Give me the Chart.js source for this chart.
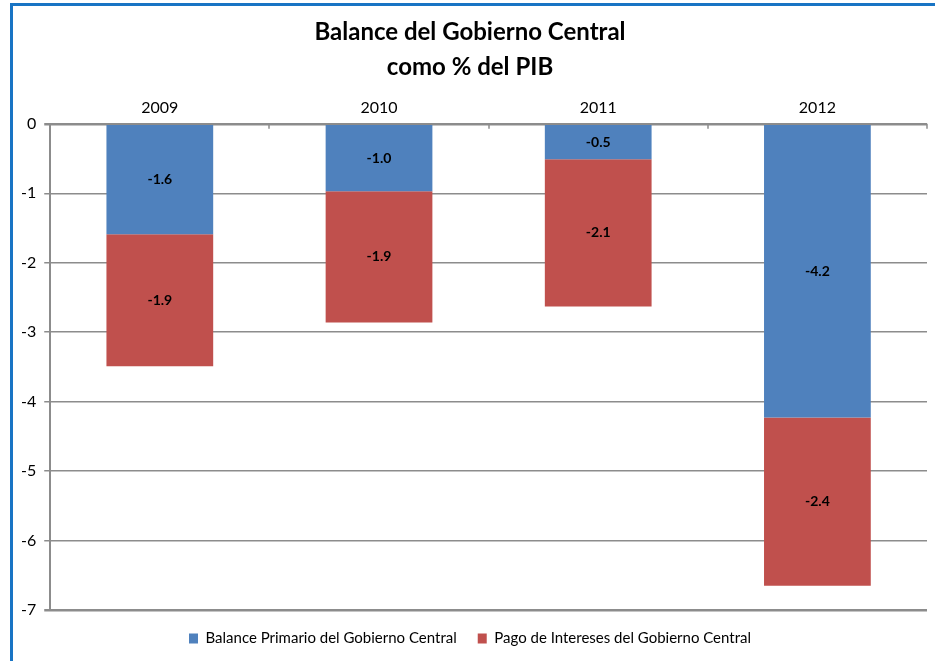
<!DOCTYPE html>
<html>
<head>
<meta charset="utf-8">
<script src="https://cdn.jsdelivr.net/npm/chart.js@4.4.1/dist/chart.umd.min.js"></script>
<style>
  html, body { margin: 0; padding: 0; background: #fff; overflow: hidden; }
  #frame {
    position: absolute; left: 10px; top: 3px;
    width: 929px; height: 658px;
    border-left: 3px solid #1874c4; border-top: 3px solid #1874c4;
  }
  #chart { display: block; }
</style>
</head>
<body>
<div id="frame"><canvas id="chart" width="929" height="655"></canvas></div>
<script>
'use strict';

const years = ['2009', '2010', '2011', '2012'];
const primario = [-1.59, -0.97, -0.51, -4.23];
const intereses = [-1.90, -1.89, -2.12, -2.42];
const seriesNames = ['Balance Primario del Gobierno Central', 'Pago de Intereses del Gobierno Central'];
const titleLines = ['Balance del Gobierno Central', 'como % del PIB'];

const FONT = 'Lato, "Noto Sans", sans-serif';
const GRID = '#8c8c8c';

// value labels in the middle of each bar piece
const barLabels = {
  id: 'barLabels',
  afterDatasetsDraw(chart) {
    const ctx = chart.ctx;
    ctx.save();
    ctx.font = 'bold 14px ' + FONT;
    ctx.fillStyle = '#000';
    ctx.textAlign = 'center';
    ctx.textBaseline = 'middle';
    chart.data.datasets.forEach((ds, i) => {
      chart.getDatasetMeta(i).data.forEach((bar, j) => {
        ctx.fillText(ds.data[j].toFixed(1), bar.x, (bar.y + bar.base) / 2);
      });
    });
    ctx.restore();
  }
};

// small tick marks between categories, hanging down from the top axis
const catTicks = {
  id: 'catTicks',
  afterDraw(chart) {
    const xs = chart.scales.x;
    const ctx = chart.ctx;
    const step = (xs.right - xs.left) / years.length;
    ctx.save();
    ctx.strokeStyle = GRID;
    ctx.lineWidth = 1.5;
    for (let i = 1; i <= years.length; i++) {
      const x = Math.round(xs.left + i * step);
      ctx.beginPath();
      ctx.moveTo(x, xs.bottom);
      ctx.lineTo(x, xs.bottom + 5);
      ctx.stroke();
    }
    ctx.restore();
  }
};

new Chart(document.getElementById('chart'), {
  type: 'bar',
  data: {
    labels: years,
    datasets: [{
      label: seriesNames[0],
      data: primario,
      backgroundColor: '#4f81bd'
    }, {
      label: seriesNames[1],
      data: intereses,
      backgroundColor: '#c0504d'
    }]
  },
  options: {
    responsive: false,
    animation: false,
    layout: { padding: { left: 0, right: 15, top: 9, bottom: 5 } },
    datasets: { bar: { categoryPercentage: 0.487, barPercentage: 1 } },
    plugins: {
      title: {
        display: true,
        text: titleLines,
        color: '#000',
        font: { family: FONT, size: 24, weight: 'bold', lineHeight: 1.45 },
        padding: { top: 0, bottom: 16 }
      },
      legend: {
        position: 'bottom',
        labels: {
          color: '#000',
          font: { family: FONT, size: 15 },
          boxWidth: 9,
          boxHeight: 10,
          padding: 21
        }
      },
      tooltip: { enabled: false }
    },
    scales: {
      x: {
        position: 'top',
        stacked: true,
        grid: { display: false },
        border: { display: false },
        ticks: { color: '#000', font: { family: FONT, size: 16 }, padding: -2 }
      },
      y: {
        stacked: true,
        min: -7,
        max: 0,
        ticks: {
          stepSize: 1,
          color: '#000',
          font: { family: FONT, size: 16 },
          padding: 8
        },
        grid: {
          color: GRID,
          lineWidth: (c) => (c.tick && (c.tick.value === 0 || c.tick.value === -7)) ? 2.5 : 1.5,
          tickLength: 6
        },
        border: { color: GRID, width: 2 }
      }
    }
  },
  plugins: [barLabels, catTicks]
});
</script>
</body>
</html>
